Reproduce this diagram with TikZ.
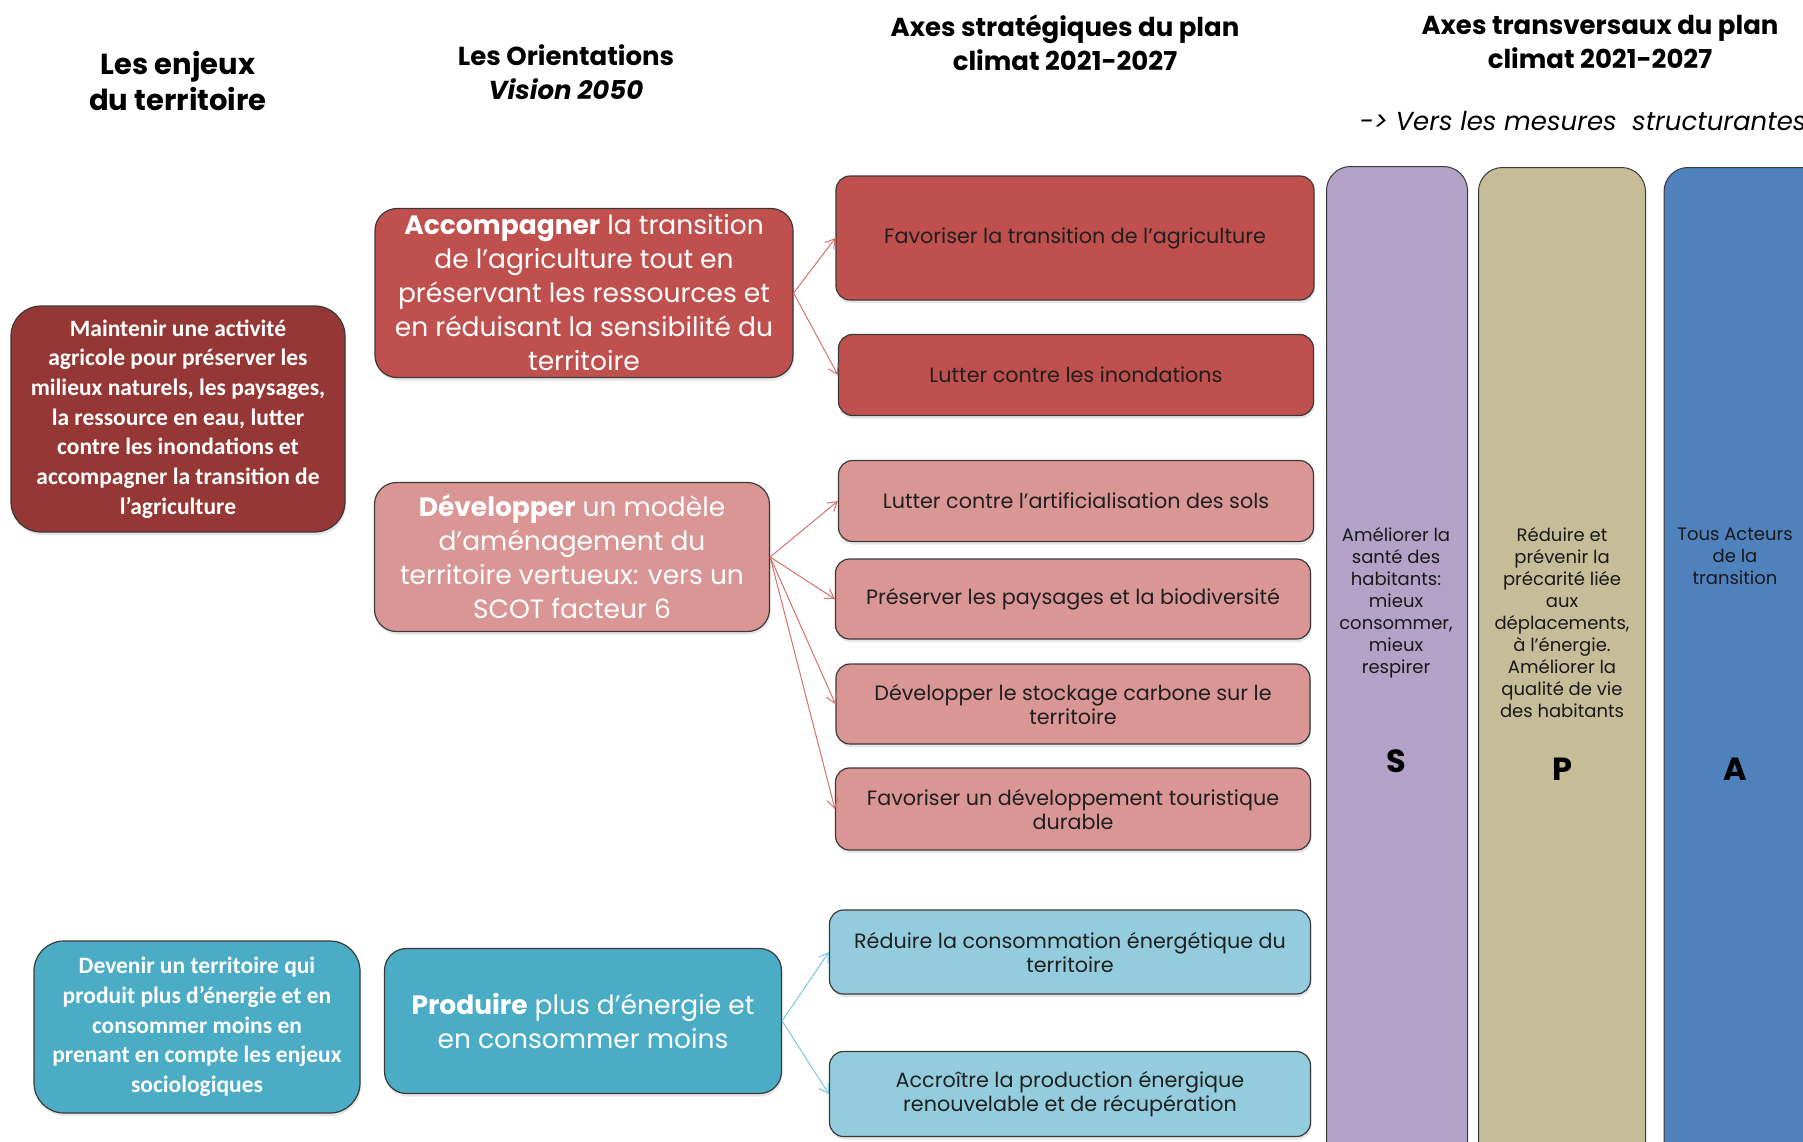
\documentclass[tikz,border=0pt]{standalone}
\usepackage{fontspec}
\setmainfont{Poppins}
\newfontfamily\calib{Carlito}
\usetikzlibrary{arrows.meta,shadows}

\definecolor{rougeFonce}{HTML}{953735}
\definecolor{rougeAxe}{HTML}{C0504D}
\definecolor{roseAxe}{HTML}{D99694}
\definecolor{turqAxe}{HTML}{4BACC6}
\definecolor{turqClair}{HTML}{93CDDD}
\definecolor{colViolet}{HTML}{B3A2C7}
\definecolor{colKaki}{HTML}{C4BD97}
\definecolor{colBleu}{HTML}{4F81BD}
\definecolor{bordBoite}{HTML}{3A3A3A}
\definecolor{flecheR}{HTML}{D9706D}
\definecolor{flecheB}{HTML}{7CC6DC}

\tikzset{
  boite/.style={draw=bordBoite, line width=1.2pt, rounded corners=22pt,
    align=center, inner sep=3pt,
    drop shadow={shadow xshift=1pt, shadow yshift=-3pt, opacity=0.2}},
  enjeu/.style={boite, rounded corners=30pt, text=white,
    font=\calib\bfseries\fontsize{23.5}{29.7}\selectfont},
  orient/.style={boite, text=white, font=\fontsize{26.5}{34}\selectfont},
  axe/.style={boite, rounded corners=14pt, text=black!88,
    font=\fontsize{20.7}{24}\selectfont},
  colonne/.style={draw=bordBoite, line width=1pt, rounded corners=24pt,
    anchor=north, minimum height=1100pt},
  coltexte/.style={align=center, text=black!90, font=\fontsize{18}{22}\selectfont},
  lettre/.style={font=\bfseries\fontsize{32}{32}\selectfont},
  titre/.style={align=center, font=\bfseries\fontsize{26}{34}\selectfont},
  fleche/.style={-{Straight Barb[length=9pt,width=11pt]}, line width=1pt},
}

\begin{document}
\begin{tikzpicture}[x=1pt,y=-1pt]
  \useasboundingbox (0,0) rectangle (1803,1141);
  \clip (0,0) rectangle (1803,1141);

  % titres des colonnes
  \node[titre, font=\bfseries\fontsize{29}{36}\selectfont] (tEnjeux) at (178,81) {Les enjeux\\du territoire};
  \node[titre] (tOrient) at (566,72) {Les Orientations\\\textit{Vision 2050}};
  \node[titre] (tStrat) at (1065,43) {Axes stratégiques du plan\\climat 2021-2027};
  \node[titre] (tTransv) at (1600,42) {Axes transversaux du plan\\climat 2021-2027};
  \node[anchor=west, font=\itshape\fontsize{26}{30}\selectfont] (tMesures) at (1356,121)
    {-> Vers les mesures\ \ structurantes};

  % axes transversaux
  \node[colonne, fill=colViolet, minimum width=141pt] (colS) at (1397,166) {};
  \node[colonne, fill=colKaki, minimum width=167pt] (colP) at (1562,167) {};
  \node[colonne, fill=colBleu, minimum width=176pt] (colA) at (1752,167) {};

  \node[coltexte, anchor=north] (txtS) at (1396,524) {Améliorer la\\santé des\\habitants:\\mieux\\consommer,\\mieux\\respirer};
  \node[coltexte, anchor=north] (txtP) at (1562,524) {Réduire et\\prévenir la\\précarité liée\\aux\\déplacements,\\à l’énergie.\\Améliorer la\\qualité de vie\\des habitants};
  \node[coltexte, anchor=north] (txtA) at (1735,524) {Tous Acteurs\\de la\\transition};
  \node[lettre] (lS) at (1396,761) {S};
  \node[lettre] (lP) at (1562,769) {P};
  \node[lettre] (lA) at (1735,769) {A};

  % enjeux
  \node[enjeu, fill=rougeFonce, minimum width=334pt, minimum height=226pt] (enj1) at (178,419)
    {Maintenir une activité\\agricole pour préserver les\\milieux naturels, les paysages,\\la ressource en eau, lutter\\contre les inondations et\\accompagner la transition de\\l’agriculture};
  \node[enjeu, fill=turqAxe, minimum width=326pt, minimum height=172pt] (enj2) at (197,1027)
    {Devenir un territoire qui\\produit plus d’énergie et en\\consommer moins en\\prenant en compte les enjeux\\sociologiques};

  % orientations
  \node[orient, fill=rougeAxe, minimum width=418pt, minimum height=169pt] (ori1) at (584,293)
    {\textbf{Accompagner} la transition\\de l’agriculture tout en\\préservant les ressources et\\en réduisant la sensibilité du\\territoire};
  \node[orient, fill=roseAxe, minimum width=395pt, minimum height=149pt] (ori2) at (572,557)
    {\textbf{Développer} un modèle\\d'aménagement du\\territoire vertueux: vers un\\SCOT facteur 6};
  \node[orient, fill=turqAxe, minimum width=397pt, minimum height=145pt] (ori3) at (583,1021)
    {\textbf{Produire} plus d’énergie et\\en consommer moins};

  % axes strategiques
  \node[axe, fill=rougeAxe, minimum width=478pt, minimum height=124pt] (ax1) at (1075,238) {Favoriser la transition de l'agriculture};
  \node[axe, fill=rougeAxe, minimum width=475pt, minimum height=81pt] (ax2) at (1076,375) {Lutter contre les inondations};
  \node[axe, fill=roseAxe, minimum width=475pt, minimum height=81pt] (ax3) at (1076,501) {Lutter contre l'artificialisation des sols};
  \node[axe, fill=roseAxe, minimum width=475pt, minimum height=80pt] (ax4) at (1073,599) {Préserver les paysages et la biodiversité};
  \node[axe, fill=roseAxe, minimum width=474pt, minimum height=80pt] (ax5) at (1073,704) {Développer le stockage carbone sur le\\territoire};
  \node[axe, fill=roseAxe, minimum width=475pt, minimum height=82pt] (ax6) at (1073,809) {Favoriser un développement touristique\\durable};
  \node[axe, fill=turqClair, minimum width=481pt, minimum height=84pt] (ax7) at (1070,952) {Réduire la consommation énergétique du\\territoire};
  \node[axe, fill=turqClair, minimum width=481pt, minimum height=85pt] (ax8) at (1070,1094) {Accroître la production énergique\\renouvelable et de récupération};

  % fleches
  \foreach \b in {ax1,ax2}
  \draw[fleche, draw=flecheR] (ori1.east) -- (\b.west);
  \foreach \b in {ax3,ax4,ax5,ax6}
  \draw[fleche, draw=flecheR] (ori2.east) -- (\b.west);
  \foreach \b in {ax7,ax8}
  \draw[fleche, draw=flecheB] (ori3.east) -- (\b.west);

\end{tikzpicture}
\end{document}
